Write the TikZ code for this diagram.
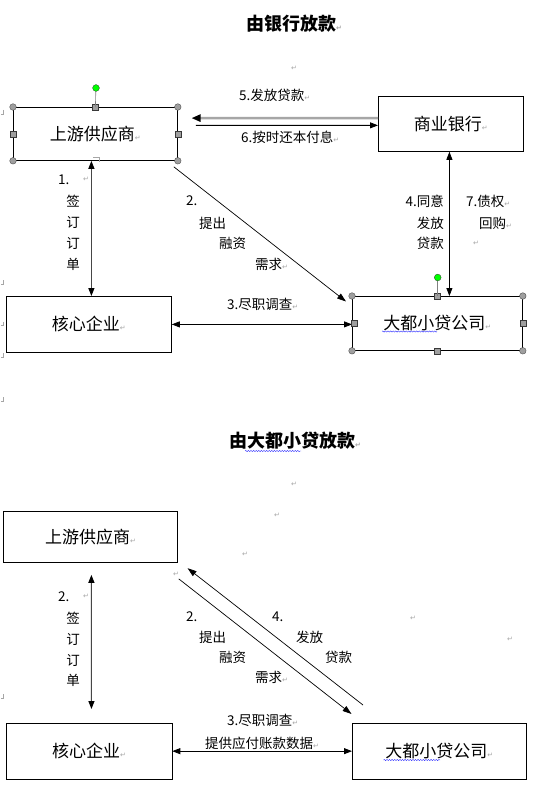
\documentclass[tikz,border=0pt]{standalone}
\usepackage{fontspec}
\setmainfont{Noto Sans CJK SC}
\newfontfamily\djv{DejaVu Sans}
\usetikzlibrary{arrows.meta,decorations.pathmorphing,calc}
\newcommand\pmk{{\djv\fontsize{7}{7}\selectfont\textcolor{gray!70}{↵}}}
\begin{document}
\begin{tikzpicture}[x=1pt,y=-1pt,
 box/.style={draw,line width=0.8pt,inner sep=0pt,anchor=north west,font=\fontsize{17}{17}\selectfont},
 lbl/.style={inner sep=0pt,font=\fontsize{13.5}{13.5}\selectfont},
 lblw/.style={lbl,anchor=west},
 lble/.style={lbl,anchor=east},
 ttl/.style={inner sep=0pt,anchor=west,font=\bfseries\fontsize{18}{18}\selectfont},
 pm/.style={inner sep=0pt},
 arr/.style={line width=0.8pt,-{Triangle[length=8pt,width=6pt]}},
 darr/.style={line width=0.8pt,{Triangle[length=8pt,width=6pt]}-{Triangle[length=8pt,width=6pt]}},
 garr/.style={line width=1.1pt,draw=gray!55!black,{Triangle[length=8pt,width=6pt,color=black]}-{Triangle[length=8pt,width=6pt,color=black]}},
 hdl/.style={fill=gray!75,draw=gray!45!black,line width=0.3pt},
 hsq/.style={hdl,rectangle,minimum size=6pt,inner sep=0pt},
 wavy/.style={blue!80,line width=0.4pt,decorate,decoration={snake,amplitude=0.6pt,segment length=2.6pt}},
 mk/.style={gray!70,line width=0.4pt}]
\useasboundingbox (0,0) rectangle (537,789);
\fill[white] (0,0) rectangle (537,789);

% ================= top section =================
\node[ttl] (t1) at (246,24) {由银行放款\pmk};
\node[pm] (p1) at (294,68.5) {\pmk};

\node[box,minimum width=164pt,minimum height=53pt] (s1) at (13,107) {上游供应商\pmk};
\node[box,minimum width=145pt,minimum height=54.5pt] (b1) at (378,96.5) {商业银行\pmk};
\node[box,minimum width=165pt,minimum height=56pt] (c1) at (6,296) {核心企业\pmk};
\node[box,minimum width=170pt,minimum height=54pt] (d1) at (352,296) {大都小贷公司\pmk};

% connectors
\draw[line width=2.6pt,draw=gray!70,-{Triangle[length=9pt,width=7pt,color=black]},shorten >=13.7pt]
  ([shift={(0,-6)}]b1.west) -- ([shift={(0,-15.8)}]s1.east);
\draw[arr,shorten <=18pt] ([shift={(0,-8.5)}]s1.east) -- ([shift={(0,1.2)}]b1.west);
\draw[garr] ([shift={(-4,0)}]s1.south) -- ([shift={(-4,0)}]s1.south |- c1.north);
\draw[line width=0.7pt,-{Triangle[length=9pt,width=6pt]}] ([shift={(-4,6)}]s1.south east) -- ([shift={(-6,5.5)}]d1.north west);
\draw[darr] ([shift={(-1.5,0)}]b1.south) -- ([shift={(-1.5,0)}]b1.south |- d1.north);
\draw[darr] (c1.east) -- (c1.east -| d1.west);

% labels
\node[lblw] (l5) at (239,95) {5.发放贷款\pmk};
\node[lblw] (l6) at (241,137) {6.按时还本付息\pmk};
\node[lblw] (l1) at (58,180) {1.};
\node[pm] at (86,179) {\pmk};
\foreach \ch/\yy in {签/201,订/222,订/243,单/264} \node[lbl] at (73,\yy) {\ch};
\node[lblw] at (186,201) {2.};
\node[lblw] at (199,223) {提出};
\node[lblw] at (219,243) {融资};
\node[lblw] at (255,264) {需求\pmk};
\node[lble] at (444,201) {4.同意};
\node[lble] at (444,223) {发放};
\node[lble] at (444,243) {贷款};
\node[lblw] at (466,201) {7.债权\pmk};
\node[lblw] at (479,223) {回购\pmk};
\node[pm] at (476,243) {\pmk};
\node[lblw] at (227,304) {3.尽职调查\pmk};
\draw[wavy] (382,331.5) -- (437,331.5);

% selection handles
\foreach \a in {north west,north east,south west,south east} \fill[hdl] (s1.\a) circle (3.3pt);
\foreach \a in {north,west,east} \node[hsq] at (s1.\a) {};
\draw[gray,line width=0.6pt] (s1.north) -- ++(0.5,-19);
\filldraw[fill=green,draw=gray!40!black,line width=0.3pt] ($(s1.north)+(0.6,-19)$) circle (3.4pt);
\draw[mk] (93,157) -- (99,157) -- (99,162);

\foreach \a in {north west,north east,south west,south east} \fill[hdl] (d1.\a) circle (3.3pt);
\foreach \a in {north,south,east} \node[hsq] at (d1.\a) {};
\node[hsq] at ([shift={(2.5,0)}]d1.west) {};
\draw[gray,line width=0.6pt] (d1.north) -- ++(0,-18.5);
\filldraw[fill=green,draw=gray!40!black,line width=0.3pt] ($(d1.north)+(0.3,-18.5)$) circle (3.4pt);

% margin marks
\foreach \yy in {113,283,324.5,356,400,697} \draw[mk] (3,\yy-3) -- (3,\yy+1) -- (0.5,\yy+1);

% ================= bottom section =================
\node[ttl] (t2) at (229,441) {由大都小贷放款\pmk};
\draw[wavy] (245,451) -- (301,451);
\node[pm] at (294,484) {\pmk};
\node[pm] at (277,515) {\pmk};
\node[pm] at (245,554) {\pmk};
\node[pm] at (176,574) {\pmk};

\node[box,minimum width=173.6pt,minimum height=50.6pt] (s2) at (3.4,511) {上游供应商\pmk};
\node[box,minimum width=165.5pt,minimum height=55.5pt] (c2) at (6,723) {核心企业\pmk};
\node[box,minimum width=173.7pt,minimum height=55.5pt] (d2) at (352,723) {大都小贷公司\pmk};

\draw[garr] ([shift={(0.8,12.4)}]s2.south) -- ([shift={(2.3,-14)}]c2.north);
\draw[line width=0.7pt,-{Triangle[length=9pt,width=6pt]}] ([shift={(1,16.5)}]s2.south east) -- ([shift={(-0.5,-9)}]d2.north west);
\draw[line width=0.7pt,-{Triangle[length=9pt,width=6pt]}] ([shift={(11,-18)}]d2.north west) -- ([shift={(9.8,5.8)}]s2.south east);
\draw[darr] (c2.east) -- (c2.east -| d2.west);

\node[lblw] at (58,596.5) {2.};
\node[pm] at (86,596) {\pmk};
\foreach \ch/\yy in {签/618,订/639,订/660,单/680} \node[lbl] at (73,\yy) {\ch};
\node[lblw] at (186,617) {2.};
\node[lblw] at (199,637) {提出};
\node[lblw] at (219,657) {融资};
\node[lblw] at (255,677) {需求\pmk};
\node[lblw] at (272,617) {4.};
\node[lblw] at (296,637) {发放};
\node[lblw] at (325,657) {贷款};
\node[pm] at (413,618) {\pmk};
\node[pm] at (510,639) {\pmk};
\node[lblw] at (227,720) {3.尽职调查\pmk};
\node[lblw] at (205,743) {提供应付账款数据\pmk};
\draw[wavy] (383.5,760) -- (440,760);
\end{tikzpicture}
\end{document}
